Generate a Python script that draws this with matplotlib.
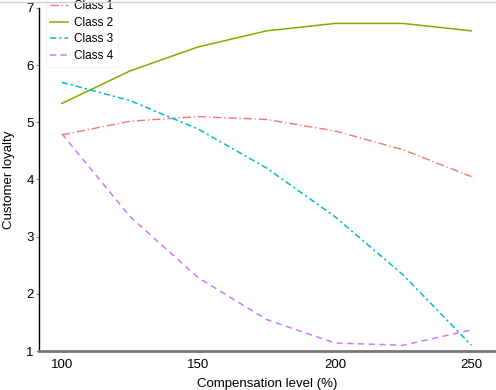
import matplotlib
matplotlib.use("Agg")
import matplotlib.pyplot as plt
from matplotlib.lines import Line2D

plt.rcParams['font.family'] = ['Liberation Sans', 'DejaVu Sans']

# data
comp_level = [100, 125, 150, 175, 200, 225, 250]
class_1 = [4.78, 5.02, 5.10, 5.05, 4.85, 4.52, 4.05]
class_2 = [5.33, 5.90, 6.32, 6.60, 6.73, 6.73, 6.60]
class_3 = [5.70, 5.38, 4.88, 4.20, 3.35, 2.33, 1.10]
class_4 = [4.80, 3.35, 2.28, 1.55, 1.14, 1.10, 1.37]

fig = plt.figure(figsize=(4.96, 3.9), dpi=100)
ax = fig.add_axes([0.079, 0.10, 0.921, 0.8795])

ax.plot(comp_level, class_1, color='#F8766D', lw=1, dashes=[6, 2, 1, 2], label='Class 1')
ax.plot(comp_level, class_2, color='#7CAE00', lw=1.1, label='Class 2')
ax.plot(comp_level, class_3, color='#00BFC4', lw=1.1, dashes=[4, 2, 1.5, 2], label='Class 3')
ax.plot(comp_level, class_4, color='#C77CFF', lw=1.1, dashes=[4, 3], label='Class 4')

ax.set_xlim(91.7, 259)
ax.set_ylim(1, 7)
ax.set_xticks([100, 150, 200, 250])
ax.set_yticks([1, 2, 3, 4, 5, 6, 7])

for s in ['top', 'right']:
    ax.spines[s].set_visible(False)
ax.spines['left'].set_color('black')
ax.spines['left'].set_linewidth(1)
ax.spines['bottom'].set_color('#777777')
ax.spines['bottom'].set_linewidth(2)
ax.tick_params(axis='x', length=0, pad=6, labelsize=9.5)
ax.tick_params(axis='y', length=2, width=0.8, color='#888888', pad=2, labelsize=9.5)

ax.set_xlabel('Compensation level (%)', fontsize=9.5, labelpad=5)
ax.set_ylabel('Customer loyalty', fontsize=9.5, labelpad=8)

# thin gray line along the top of the figure
fig.add_artist(Line2D([0, 1], [0.995, 0.995], transform=fig.transFigure,
                      color='#d0d0d0', lw=1))

leg = ax.legend(loc='upper left', bbox_to_anchor=(0.092, 1.012),
                bbox_transform=fig.transFigure, fontsize=8.5,
                handlelength=1.5, handletextpad=0.5, labelspacing=0.4,
                frameon=True, fancybox=False, borderpad=0.4, borderaxespad=0)
leg.get_frame().set_edgecolor('#f2f2f2')
leg.get_frame().set_linewidth(0.8)
leg.set_zorder(5)

fig.savefig('out.png', dpi=100)
